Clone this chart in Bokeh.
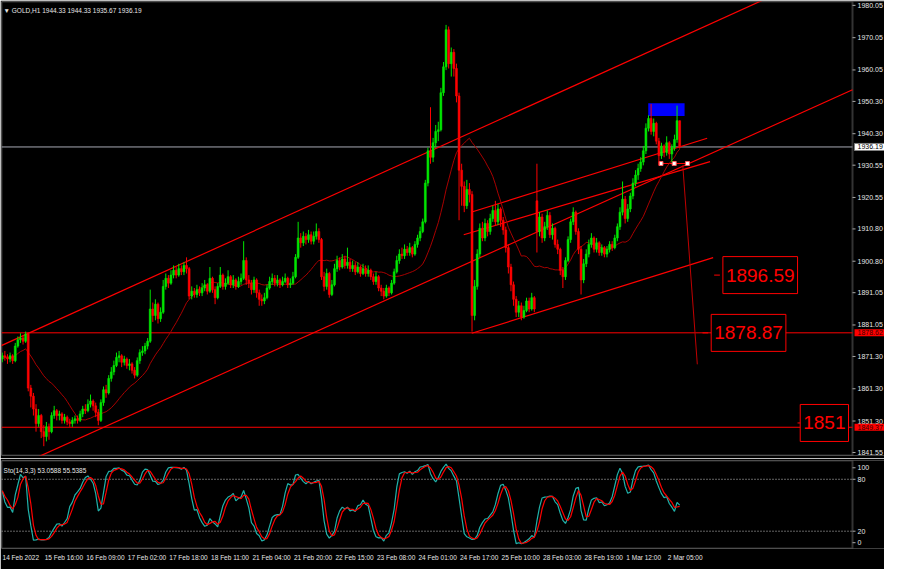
import numpy as np
from bokeh.plotting import figure
from bokeh.layouts import column
from bokeh.models import (Range1d, FixedTicker, Label, BoxAnnotation, ColumnDataSource)
from bokeh.core.properties import value
from bokeh.embed import file_html
from bokeh.resources import INLINE

# ---------------- data ----------------
first_open = 1870.5
gap_open = {206: 1919.5}

close = [
    1871.5, 1871.0, 1870.5, 1871.5, 1870.0, 1874.5, 1876.5, 1877.0, 1876.0, 1878.2,
    1861.5, 1859.0, 1855.0, 1850.5, 1853.0, 1848.0, 1846.5, 1849.5, 1848.0, 1853.0,
    1854.5, 1853.0, 1853.5, 1851.5, 1852.5, 1851.0, 1850.5, 1851.5, 1852.0, 1851.5,
    1853.5, 1855.0, 1854.5, 1856.5, 1857.5, 1856.0, 1854.0, 1851.5, 1857.0, 1861.0,
    1860.0, 1864.5, 1866.5, 1868.5, 1871.0, 1871.5, 1869.5, 1870.5, 1868.5, 1869.0,
    1867.0, 1865.5, 1870.0, 1872.5, 1873.0, 1874.5, 1876.0, 1886.0, 1884.0, 1887.5,
    1883.0, 1885.0, 1893.0, 1895.5, 1894.0, 1896.5, 1898.0, 1896.5, 1898.5, 1897.5,
    1899.5, 1898.5, 1890.0, 1891.5, 1890.5, 1892.0, 1891.0, 1892.5, 1893.5, 1891.5,
    1895.5, 1892.0, 1889.5, 1893.0, 1896.5, 1893.0, 1894.0, 1896.0, 1893.5, 1895.0,
    1893.0, 1894.5, 1895.5, 1901.0, 1895.0, 1894.0, 1892.0, 1895.0, 1891.0, 1889.0,
    1888.5, 1889.5, 1892.5, 1894.5, 1895.5, 1894.0, 1895.0, 1893.5, 1894.5, 1895.5,
    1893.5, 1894.0, 1896.0, 1902.0, 1908.0, 1906.5, 1908.5, 1907.5, 1909.0, 1907.0,
    1908.5, 1910.0, 1907.5, 1896.0, 1893.0, 1897.0, 1890.5, 1893.5, 1898.5, 1901.0,
    1899.0, 1901.5, 1899.5, 1900.5, 1898.5, 1899.5, 1897.5, 1899.0, 1897.0, 1898.5,
    1897.0, 1898.0, 1896.0, 1894.5, 1896.0, 1892.5, 1891.5, 1890.0, 1892.5, 1891.0,
    1894.0, 1897.5, 1901.0, 1903.0, 1902.5, 1904.5, 1903.5, 1905.0, 1903.0, 1906.0,
    1908.0, 1910.0, 1913.0, 1925.0, 1935.0, 1933.0, 1937.5, 1941.0, 1941.5, 1953.0,
    1961.0, 1972.5, 1962.0, 1965.5, 1960.5, 1952.0, 1929.0, 1924.0, 1918.0, 1923.0,
    1921.5, 1884.0, 1893.0, 1903.0, 1911.0, 1908.0, 1912.5, 1910.0, 1914.0, 1916.5,
    1913.0, 1917.0, 1913.5, 1910.5, 1905.0, 1899.0, 1893.5, 1889.0, 1885.0, 1887.0,
    1883.5, 1885.5, 1888.5, 1886.0, 1889.5, 1886.0, 1910.0, 1914.5, 1908.0, 1911.5,
    1915.0, 1909.0, 1911.0, 1906.0, 1904.5, 1898.0, 1896.0, 1901.0, 1907.5, 1913.0,
    1916.0, 1910.0, 1904.5, 1895.0, 1900.0, 1903.0, 1906.0, 1908.0, 1904.5, 1906.5,
    1903.5, 1905.0, 1903.0, 1904.5, 1906.0, 1905.0, 1908.0, 1911.5, 1916.0, 1920.0,
    1914.0, 1917.0, 1921.0, 1925.0, 1927.5, 1929.5, 1931.5, 1935.0, 1942.0, 1945.0,
    1941.0, 1943.5, 1938.0, 1933.5, 1936.5, 1934.5, 1937.5, 1934.0, 1936.0, 1938.5,
    1944.33, 1936.19,
]

high = [
    1872.5, 1873.0, 1872.0, 1872.5, 1872.0, 1875.5, 1877.5, 1878.5, 1878.0, 1879.0,
    1878.8, 1862.5, 1860.0, 1856.5, 1855.0, 1853.5, 1850.0, 1851.0, 1850.5, 1854.0,
    1856.0, 1855.0, 1854.5, 1854.0, 1853.5, 1853.0, 1852.0, 1852.5, 1853.0, 1853.0,
    1854.5, 1856.0, 1856.5, 1858.0, 1859.5, 1858.0, 1857.0, 1855.0, 1858.0, 1862.0,
    1862.5, 1865.5, 1868.0, 1870.0, 1872.5, 1873.0, 1872.0, 1871.5, 1871.0, 1870.5,
    1869.5, 1868.0, 1871.0, 1873.5, 1874.5, 1875.5, 1877.0, 1892.0, 1888.0, 1889.0,
    1888.0, 1886.5, 1895.0, 1897.0, 1896.5, 1898.0, 1899.5, 1899.0, 1900.0, 1899.5,
    1900.5, 1902.0, 1899.0, 1893.0, 1892.5, 1893.5, 1893.0, 1894.0, 1895.0, 1894.0,
    1899.0, 1896.0, 1893.0, 1894.0, 1899.0, 1897.0, 1895.5, 1898.0, 1896.5, 1896.5,
    1895.5, 1896.0, 1897.0, 1907.0, 1902.0, 1896.5, 1895.0, 1896.0, 1895.5, 1892.0,
    1890.5, 1891.0, 1893.5, 1896.0, 1897.0, 1896.5, 1896.5, 1895.5, 1896.0, 1897.0,
    1896.0, 1895.5, 1897.5, 1903.0, 1913.0, 1909.5, 1910.0, 1909.5, 1910.5, 1910.0,
    1910.0, 1912.5, 1911.0, 1908.0, 1897.5, 1898.5, 1897.5, 1895.0, 1900.0, 1902.5,
    1902.0, 1903.0, 1902.5, 1905.0, 1901.5, 1901.0, 1900.5, 1900.5, 1899.5, 1900.0,
    1899.5, 1899.5, 1898.5, 1897.0, 1897.5, 1896.5, 1893.5, 1892.5, 1893.5, 1893.0,
    1895.0, 1898.5, 1902.5, 1904.5, 1905.0, 1906.0, 1905.5, 1906.5, 1905.5, 1907.0,
    1909.0, 1911.5, 1914.0, 1926.0, 1936.0, 1948.5, 1939.0, 1943.0, 1944.0, 1954.5,
    1962.5, 1974.0, 1973.5, 1967.0, 1966.5, 1962.0, 1953.0, 1931.0, 1925.5, 1926.0,
    1925.0, 1922.5, 1895.0, 1904.5, 1912.5, 1913.0, 1914.0, 1913.5, 1915.5, 1918.0,
    1919.5, 1918.5, 1917.5, 1914.5, 1911.5, 1906.0, 1900.0, 1894.5, 1890.0, 1888.5,
    1888.0, 1887.0, 1889.5, 1889.5, 1891.0, 1890.0, 1931.0, 1916.0, 1915.5, 1913.0,
    1916.5, 1916.0, 1912.5, 1911.5, 1907.5, 1905.0, 1899.0, 1902.0, 1908.5, 1914.0,
    1917.5, 1916.5, 1911.0, 1905.5, 1901.5, 1904.5, 1907.5, 1909.5, 1908.5, 1908.0,
    1907.0, 1906.0, 1905.5, 1905.5, 1907.0, 1907.0, 1909.0, 1912.5, 1917.5, 1925.5,
    1921.0, 1918.5, 1922.0, 1926.5, 1929.0, 1931.0, 1933.0, 1936.5, 1943.5, 1946.0,
    1949.5, 1945.0, 1944.0, 1939.0, 1937.5, 1937.0, 1939.5, 1938.0, 1937.0, 1940.0,
    1949.0, 1944.33,
]

low = [
    1869.5, 1870.0, 1869.0, 1869.5, 1869.0, 1869.5, 1874.0, 1875.5, 1875.0, 1875.5,
    1860.5, 1855.5, 1853.0, 1848.0, 1849.5, 1846.0, 1843.5, 1845.0, 1845.5, 1847.5,
    1852.0, 1851.5, 1851.5, 1850.5, 1850.5, 1850.0, 1849.5, 1849.5, 1850.5, 1850.5,
    1851.0, 1852.5, 1853.5, 1854.0, 1855.5, 1854.5, 1852.5, 1850.0, 1851.0, 1856.0,
    1858.5, 1859.5, 1863.5, 1865.5, 1868.0, 1869.5, 1868.0, 1868.5, 1867.5, 1867.0,
    1866.0, 1864.5, 1865.0, 1869.0, 1871.5, 1872.0, 1873.5, 1875.5, 1882.0, 1882.5,
    1881.5, 1882.0, 1884.5, 1892.0, 1892.5, 1893.5, 1895.5, 1895.5, 1896.0, 1896.5,
    1896.5, 1897.0, 1889.0, 1889.0, 1889.5, 1889.5, 1890.0, 1890.0, 1891.5, 1890.5,
    1891.0, 1891.0, 1887.5, 1889.0, 1892.5, 1892.0, 1892.0, 1893.5, 1892.5, 1892.5,
    1892.0, 1892.5, 1893.5, 1895.0, 1893.5, 1892.5, 1890.5, 1891.0, 1889.5, 1887.0,
    1887.0, 1887.5, 1889.0, 1892.0, 1893.5, 1893.0, 1893.0, 1892.5, 1893.0, 1894.0,
    1892.5, 1892.5, 1893.5, 1895.5, 1901.5, 1905.0, 1905.5, 1906.0, 1906.5, 1906.0,
    1906.0, 1907.5, 1906.5, 1895.0, 1891.5, 1892.0, 1889.5, 1890.0, 1893.0, 1897.5,
    1898.0, 1898.5, 1898.5, 1898.5, 1897.5, 1897.5, 1896.5, 1897.0, 1896.0, 1896.5,
    1896.0, 1896.0, 1895.0, 1893.5, 1893.5, 1891.5, 1890.0, 1889.0, 1889.5, 1890.0,
    1890.5, 1893.5, 1897.0, 1900.0, 1901.5, 1901.5, 1902.5, 1902.5, 1902.0, 1902.5,
    1905.0, 1907.0, 1909.5, 1912.5, 1924.0, 1931.0, 1931.5, 1936.0, 1938.0, 1941.0,
    1952.0, 1960.0, 1960.5, 1958.0, 1958.0, 1950.0, 1913.5, 1918.0, 1916.0, 1917.0,
    1919.0, 1879.0, 1882.5, 1892.0, 1902.0, 1907.0, 1907.0, 1908.5, 1909.0, 1913.0,
    1912.0, 1912.0, 1911.5, 1909.0, 1903.5, 1897.0, 1891.5, 1887.0, 1883.5, 1883.5,
    1882.5, 1883.0, 1885.0, 1885.0, 1885.5, 1885.0, 1903.5, 1908.5, 1906.5, 1907.0,
    1910.5, 1908.0, 1907.5, 1905.0, 1903.0, 1896.5, 1892.5, 1895.0, 1900.5, 1906.5,
    1912.0, 1909.0, 1903.0, 1890.5, 1894.0, 1899.0, 1902.0, 1905.0, 1903.5, 1903.5,
    1902.5, 1902.5, 1902.0, 1902.0, 1903.5, 1904.0, 1904.5, 1907.0, 1910.5, 1915.0,
    1912.5, 1913.0, 1916.0, 1920.0, 1924.0, 1926.0, 1928.5, 1930.5, 1934.0, 1941.0,
    1940.0, 1939.5, 1937.0, 1930.5, 1932.5, 1933.0, 1933.5, 1932.5, 1931.5, 1935.0,
    1937.5, 1935.67,
]

time_tick_idx = [0, 16, 32, 48, 64, 80, 96, 112, 128, 144, 160, 176, 192, 208, 224, 240, 256]
time_tick_text = ["14 Feb 2022", "15 Feb 16:00", "16 Feb 09:00", "17 Feb 02:00", "17 Feb 18:00",
                  "18 Feb 11:00", "21 Feb 04:00", "21 Feb 20:00", "22 Feb 15:00", "23 Feb 08:00",
                  "24 Feb 01:00", "24 Feb 17:00", "25 Feb 10:00", "28 Feb 03:00", "28 Feb 19:00",
                  "1 Mar 12:00", "2 Mar 05:00"]

price_ticks = [1980.05, 1970.05, 1960.05, 1950.30, 1940.30, 1930.55, 1920.55, 1910.80,
               1900.80, 1891.05, 1881.05, 1871.30, 1861.30, 1851.30, 1841.55]

stoch_level_values = [80, 20]
stoch_tick_pos = [93.3, 80, 20, 6.7]
stoch_tick_labels = ["100", "80", "20", "0"]

# chart objects (bar index, price)
channel_upper = ([-1.0, 300.0], [1874.44, 1984.21])
channel_lower = ([0.0, 327.6], [1835.19, 1953.91])
wedge_a = ([180.9, 271.6], [1916.04, 1938.88])
wedge_b = ([177.8, 272.7], [1908.99, 1931.67])
wedge_d = ([180.9, 273.9], [1878.48, 1901.92])
drop_line = ([262.2, 267.8], [1930.47, 1868.87])
handle_line = ([253.8, 258.9, 264.0], [1931.07, 1931.07, 1931.07])
hlines = [1878.62, 1849.37]
bid = 1936.19
blue_box = (248.9, 262.9, 1945.8, 1949.7)

level_text = ["1896.59", "1878.87", "1851"]
level_i = [276.5, 272.0, 310.6]
level_p = [1896.5, 1878.6, 1850.7]

header_text = "\u25BC GOLD,H1  1944.33 1944.33 1935.67 1936.19"
stoch_text = "Sto(14,3,3) 53.0588 55.5385"

# ---------------- derived ----------------
n = len(close)
C = np.array(close); H = np.array(high); L = np.array(low)
O = np.empty(n)
O[0] = first_open
O[1:] = C[:-1]
for k, v in gap_open.items():
    O[k] = v
idx = np.arange(n)
up = C >= O
body_top = np.maximum(O, C)
body_bot = np.minimum(O, C)
BULL = "#00e600"
BEAR = "#ff0000"
colors = [BULL if u else BEAR for u in up]

ma = np.array([C[max(0, i - 19):i + 1].mean() for i in range(n)])
ll = np.array([L[max(0, i - 13):i + 1].min() for i in range(n)])
hh = np.array([H[max(0, i - 13):i + 1].max() for i in range(n)])
num = C - ll
den = hh - ll
st_main = np.array([100 * num[max(0, i - 2):i + 1].sum() / max(den[max(0, i - 2):i + 1].sum(), 1e-9)
                    for i in range(n)])
st_sig = np.array([st_main[max(0, i - 2):i + 1].mean() for i in range(n)])

FONT = "Liberation Sans"
AX = "#a8a8a8"
TXT = "#e6e6e6"

W = 884
FRAME_W = W - 1          # frame spans the whole width (price scale drawn inside)
PLOT_W = 851             # width of the candle area, price scale to its right
X0 = -0.3
X_AX = 327.6             # bar index where the price scale line sits
PXB = PLOT_W / (X_AX - X0)
X_END = X0 + FRAME_W / PXB
Y_BOT, Y_TOP = 1840.62, 1981.25


def px(n_px):
    return n_px / PXB


def text_w(t, fs):
    return sum(0.278 if ch == "." else 0.556 for ch in t) * fs


# ---------------- main panel ----------------
p = figure(width=W, height=458, x_range=Range1d(X0, X_END), y_range=Range1d(Y_BOT, Y_TOP),
           x_axis_location=None, y_axis_location=None, toolbar_location=None,
           output_backend="svg", background_fill_color="black", border_fill_color="black",
           min_border_left=1, min_border_top=1, min_border_bottom=3, min_border_right=0)
p.xgrid.visible = False
p.ygrid.visible = False
p.outline_line_color = None
p.add_layout(BoxAnnotation(left=X0, right=X_AX, bottom=Y_BOT, top=Y_TOP, fill_alpha=0,
                           line_color=AX, line_width=2, level="underlay"))

p.quad(left=[blue_box[0]], right=[blue_box[1]], bottom=[blue_box[2]], top=[blue_box[3]],
       fill_color="#0000ff", line_color=None)

for yv in hlines:
    p.line([X0, X_AX], [yv, yv], line_color="#ff0000", line_width=1)
p.line([X0, X_AX], [bid, bid], line_color="#a8aab4", line_width=1)

for (xs, ys) in (channel_upper, channel_lower, wedge_a, wedge_b, wedge_d):
    p.line(xs, ys, line_color="#ff0000", line_width=1.2)
p.line(drop_line[0], drop_line[1], line_color="#c00000", line_width=1)
p.line(handle_line[0], handle_line[1], line_color="#ff0000", line_width=1)
p.scatter(handle_line[0], handle_line[1], marker="square", size=4, fill_color="white",
          line_color="#ff6060", line_width=1)

p.line(idx, ma, line_color="#a80000", line_width=1)

src = ColumnDataSource(dict(x=idx, top=body_top, bot=body_bot, hi=H, lo=L, c=colors))
p.segment(x0="x", y0="lo", x1="x", y1="hi", color="c", line_width=1, source=src)
p.vbar(x="x", width=0.72, top="top", bottom="bot", fill_color="c", line_color="c",
       line_width=0.6, source=src)

LFS = 19
LPAD = 3
for t, xi, yp in zip(level_text, level_i, level_p):
    box_w = px(text_w(t, LFS) + 2 * LPAD)
    if xi + box_w > X_AX:
        # the terminal cuts the box at the price scale: keep it left of the scale
        lx, align, off = X_AX, "right", -LPAD - 1
        box_left = X_AX - box_w - px(1)
    else:
        lx, align, off = xi, "left", LPAD
        box_left = xi
    p.line([box_left - 2.2, box_left], [yp, yp], line_color="#ff0000", line_width=1)
    p.add_layout(Label(x=lx, y=yp, x_offset=off, text=t, text_font=FONT,
                       text_font_size=f"{LFS}px", text_color="#ff0000", text_align=align,
                       text_baseline="middle", background_fill_color="black",
                       border_line_color="#ff0000", border_line_width=1,
                       padding=dict(left=LPAD, right=LPAD, top=12, bottom=12)))

p.add_layout(Label(x=X0 + 0.8, y=1978.6, text=header_text, text_font=FONT,
                   text_font_size="6.5px", text_color=TXT, text_baseline="middle"))

# price scale (right side of the frame)
p.segment(x0=[X_AX] * len(price_ticks), y0=price_ticks,
          x1=[X_AX + px(3)] * len(price_ticks), y1=price_ticks, line_color=AX, line_width=1)
p.text(x=[X_AX + px(5)] * len(price_ticks), y=price_ticks,
       text=[f"{v:.2f}" for v in price_ticks], text_font=value(FONT),
       text_font_size=value("7px"), text_color=TXT, text_align="left", text_baseline="middle")

p.add_layout(Label(x=X_AX + px(2), y=bid, text=f"{bid:.2f}", text_font=FONT,
                   text_font_size="7px", text_color="black", text_baseline="middle",
                   background_fill_color="white", border_line_color="#808080",
                   padding=dict(left=3, right=3, top=1, bottom=1)))
for yv in hlines:
    p.add_layout(Label(x=X_AX + px(2), y=yv, text=f"{yv:.2f}", text_font=FONT,
                       text_font_size="7px", text_color="#400000", text_baseline="middle",
                       background_fill_color="#ff0000",
                       padding=dict(left=3, right=3, top=1, bottom=1)))

# ---------------- stochastic panel ----------------
S_BOT, S_TOP = 0, 101.7
s = figure(width=W, height=111, x_range=p.x_range, y_range=Range1d(S_BOT, S_TOP),
           y_axis_location=None, toolbar_location=None, output_backend="svg",
           background_fill_color="black", border_fill_color="black",
           min_border_left=1, min_border_top=2, min_border_bottom=21, min_border_right=0)
s.xgrid.visible = False
s.ygrid.visible = False
s.outline_line_color = None
s.add_layout(BoxAnnotation(left=X0, right=X_AX, bottom=S_BOT, top=S_TOP, fill_alpha=0,
                           line_color=AX, line_width=2, level="underlay"))

for lv in stoch_level_values:
    s.line([X0, X_AX], [lv, lv], line_color="#c8c8c8", line_width=1, line_dash="1 2")
s.line(idx, st_main, line_color="#20b2aa", line_width=1.2)
s.line(idx, st_sig, line_color="#ff0000", line_width=1.2)
s.add_layout(Label(x=X0 + 0.8, y=90, text=stoch_text, text_font=FONT, text_font_size="6.5px",
                   text_color=TXT, text_baseline="middle"))

s.segment(x0=[X_AX] * 4, y0=stoch_tick_pos, x1=[X_AX + px(3)] * 4, y1=stoch_tick_pos,
          line_color=AX, line_width=1)
s.text(x=[X_AX + px(5)] * 4, y=stoch_tick_pos, text=stoch_tick_labels, text_font=value(FONT),
       text_font_size=value("7px"), text_color=TXT, text_align="left", text_baseline="middle")

# time axis: labels start at their tick, as in the terminal
shifted = [round(t + px(len(lbl) * 0.49 * 6.5 / 2 + 1.0), 3)
           for t, lbl in zip(time_tick_idx, time_tick_text)]
s.xaxis.ticker = FixedTicker(ticks=shifted)
s.xaxis.major_label_overrides = {k: v for k, v in zip(shifted, time_tick_text)}
s.xaxis.major_tick_out = 0
s.xaxis.major_tick_in = 0
s.xaxis.minor_tick_line_color = None
s.xaxis.axis_line_color = None
s.xaxis.major_label_standoff = 5
s.xaxis.major_label_text_color = TXT
s.xaxis.major_label_text_font = FONT
s.xaxis.major_label_text_font_size = "6.5px"

layout = column(p, s, spacing=0)
open("out.html", "w").write(file_html(layout, INLINE))
